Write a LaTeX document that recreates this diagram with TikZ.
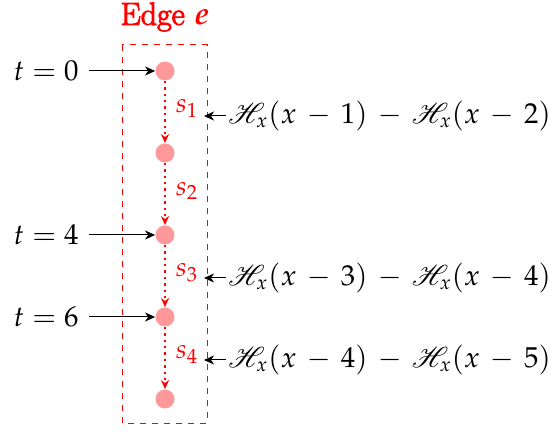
\documentclass[tikz,border=0pt]{standalone}
\usepackage[sc]{mathpazo}
\usepackage{mathrsfs}
\usepackage{amsbsy}
\usetikzlibrary{arrows.meta}
\newcommand{\hh}{\mathscr{H}}
\newcommand{\fakebold}[1]{\special{pdf:literal 2 Tr 0.5 w}#1\special{pdf:literal 0 Tr 0.4 w}}
\begin{document}
\begin{tikzpicture}[x=0.5pt,y=-0.5pt,
  dot/.style={circle,fill=red!40,inner sep=0pt,minimum size=9.5pt},
  sarrow/.style={red,dotted,line width=1.2pt,-{Stealth[length=4.5pt,width=4pt]}},
  inarrow/.style={black,line width=0.5pt,-{Stealth[length=5pt,width=4.5pt,inset=1.5pt]}},
  lbl/.style={font=\fontsize{14.4}{17}\selectfont,inner sep=1pt},
  slbl/.style={red,font=\fontsize{13.5}{16}\selectfont,inner sep=0pt}]
\useasboundingbox (0,0) rectangle (551,432);
\node[red,font=\fontsize{16}{19}\selectfont] (title) at (165,17) {\fakebold{Edge} $\boldsymbol{e}$};
\draw[red,dashed,line width=0.5pt] (122,45) rectangle (207,423);
\coordinate (boxe1) at (204,116);
\coordinate (boxe3) at (204,278);
\coordinate (boxe4) at (204,360);
\node[dot] (n0) at (165,71) {};
\node[dot] (n1) at (165,153) {};
\node[dot] (n2) at (165,235) {};
\node[dot] (n3) at (165,317) {};
\node[dot] (n4) at (165,399) {};
\draw[sarrow] (n0) -- (n1);
\draw[sarrow] (n1) -- (n2);
\draw[sarrow] (n2) -- (n3);
\draw[sarrow] (n3) -- (n4);
\node[slbl] (s1) at (187,109) {$s_1$};
\node[slbl] (s2) at (187,191) {$s_2$};
\node[slbl] (s3) at (187,273) {$s_3$};
\node[slbl] (s4) at (187,355) {$s_4$};
\node[lbl,anchor=east] (t0) at (81,71) {$t=0$};
\node[lbl,anchor=east] (t4) at (81,235) {$t=4$};
\node[lbl,anchor=east] (t6) at (81,317) {$t=6$};
\draw[inarrow] (t0.east) ++(8,0) -- (n0);
\draw[inarrow] (t4.east) ++(8,0) -- (n2);
\draw[inarrow] (t6.east) ++(8,0) -- (n3);
\node[lbl,anchor=west] (h1) at (226,116) {\medmuskip=6.3mu $\hh_x(x-1)-\hh_x(x-2)$};
\node[lbl,anchor=west] (h3) at (226,278) {\medmuskip=6.3mu $\hh_x(x-3)-\hh_x(x-4)$};
\node[lbl,anchor=west] (h4) at (226,360) {\medmuskip=6.3mu $\hh_x(x-4)-\hh_x(x-5)$};
\draw[inarrow] (h1.west) -- (boxe1);
\draw[inarrow] (h3.west) -- (boxe3);
\draw[inarrow] (h4.west) -- (boxe4);
\end{tikzpicture}
\end{document}
